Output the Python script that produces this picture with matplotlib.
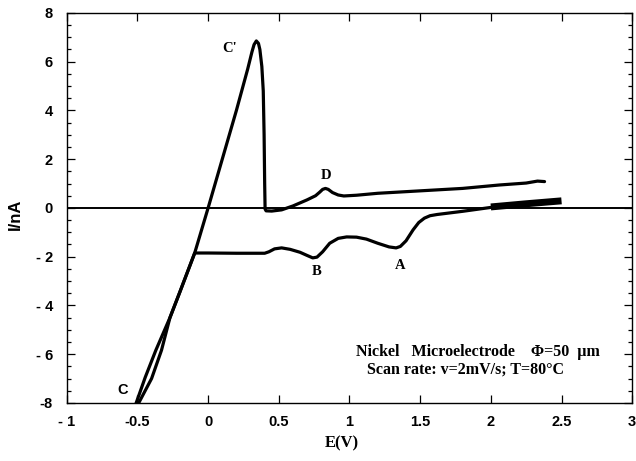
import matplotlib
matplotlib.use("Agg")
import matplotlib.pyplot as plt
from matplotlib.ticker import MultipleLocator

# Cathodic scan (lower branch), from 2.0 V down to the cathodic limit
cath_E = [2.0, 1.8, 1.62, 1.57, 1.53, 1.49, 1.45, 1.40, 1.36, 1.33, 1.28, 1.20, 1.12,
          1.05, 0.98, 0.92, 0.86, 0.81, 0.77, 0.74, 0.70, 0.65, 0.58, 0.52, 0.47, 0.43,
          0.40, 0.2, 0.0, -0.095, -0.2, -0.27, -0.37, -0.445, -0.515]
cath_I = [0.02, -0.14, -0.27, -0.32, -0.42, -0.6, -0.9, -1.35, -1.58, -1.64, -1.60, -1.45,
          -1.28, -1.20, -1.19, -1.25, -1.45, -1.8, -2.02, -2.05, -1.95, -1.82, -1.70, -1.64,
          -1.68, -1.80, -1.86, -1.86, -1.85, -1.85, -3.45, -4.5, -5.84, -6.95, -8.1]

# Noisy thick start of the scan (2.0 .. 2.5 V)
band_E = [2.0, 2.25, 2.5]
band_I = [0.04, 0.17, 0.29]

# Anodic (return) scan, from the cathodic limit up to 2.4 V
anod_E = [-0.50, -0.40, -0.33, -0.27, -0.2, -0.095, 0.0, 0.1, 0.2, 0.28, 0.31, 0.325,
          0.341, 0.356, 0.366, 0.38, 0.39, 0.396, 0.40, 0.403, 0.41, 0.45, 0.52, 0.6, 0.7,
          0.76, 0.79, 0.81, 0.83, 0.85, 0.88, 0.92, 0.96, 1.05, 1.2, 1.5, 1.8, 2.06, 2.25,
          2.33, 2.38]
anod_I = [-8.1, -7.0, -5.84, -4.5, -3.45, -1.85, 0.0, 2.0, 4.0, 5.7, 6.4, 6.7,
          6.85, 6.75, 6.5, 5.8, 4.8, 3.0, 1.0, -0.05, -0.12, -0.13, -0.08, 0.08, 0.33,
          0.5, 0.65, 0.76, 0.8, 0.76, 0.63, 0.53, 0.49, 0.52, 0.6, 0.7, 0.8, 0.94, 1.02,
          1.1, 1.08]

x_ticks = [-1, -0.5, 0, 0.5, 1, 1.5, 2, 2.5, 3]
x_tick_labels = ["- 1", "-0.5", "0", "0.5", "1", "1.5", "2", "2.5", "3"]
y_ticks = [-8, -6, -4, -2, 0, 2, 4, 6, 8]
y_tick_labels = ["-8", "- 6", "- 4", "- 2", "0", "2", "4", "6", "8"]

peak_labels = ["C'", "D", "B", "A", "C"]
peak_pos = [(0.152, 6.52), (0.837, 1.35), (0.767, -2.62), (1.36, -2.38), (-0.604, -7.46)]

fig = plt.figure(figsize=(6.36, 4.61), dpi=100)
ax = fig.add_axes([0.105, 0.126, 0.889, 0.846])

lw = 2.3
ax.plot(cath_E, cath_I, color="black", lw=lw, solid_capstyle="round", solid_joinstyle="round")
ax.plot(anod_E, anod_I, color="black", lw=lw, solid_capstyle="round", solid_joinstyle="round")
ax.plot(band_E, band_I, color="black", lw=5, solid_capstyle="butt")
ax.axhline(0, color="black", lw=1.4)

ax.set_xlim(-1, 3)
ax.set_ylim(-8, 8)
ax.set_xticks(x_ticks)
ax.set_xticklabels(x_tick_labels)
ax.set_yticks(y_ticks)
ax.set_yticklabels(y_tick_labels)
ax.yaxis.set_minor_locator(MultipleLocator(0.5))
ax.tick_params(which="both", direction="in", top=True, right=True, width=0.9)
ax.tick_params(which="major", length=6)
ax.tick_params(which="minor", length=3)
ax.tick_params(axis="x", which="major", pad=9)
ax.tick_params(axis="y", which="major", pad=10)
for lab in ax.get_xticklabels() + ax.get_yticklabels():
    lab.set_fontfamily("Liberation Sans")
    lab.set_fontweight("bold")
    lab.set_fontsize(10.5)
for s in ax.spines.values():
    s.set_linewidth(1.0)

fig.text(342 / 636, 1 - 443 / 461, "E(V)", fontfamily="Liberation Serif", fontweight="bold",
         fontsize=12, ha="center", va="center")
fig.text(15 / 636, 1 - 214 / 461, "I/nA", fontfamily="Liberation Sans", fontweight="bold",
         fontsize=12, rotation=90, ha="center", va="center")

for lab, (xx, yy) in zip(peak_labels, peak_pos):
    fam = "Liberation Sans" if lab == "C" else "Liberation Serif"
    ax.text(xx, yy, lab, fontfamily=fam, fontweight="bold", fontsize=10.5,
            ha="center", va="center")

ax.text(1.908, -5.9, "Nickel   Microelectrode    \u03a6=50  \u00b5m",
        fontfamily="Liberation Serif", fontweight="bold", fontsize=11.5, ha="center", va="center")
ax.text(1.823, -6.64, "Scan rate: v=2mV/s; T=80\u00b0C",
        fontfamily="Liberation Serif", fontweight="bold", fontsize=11.5, ha="center", va="center")

fig.savefig("out.png", dpi=100)
